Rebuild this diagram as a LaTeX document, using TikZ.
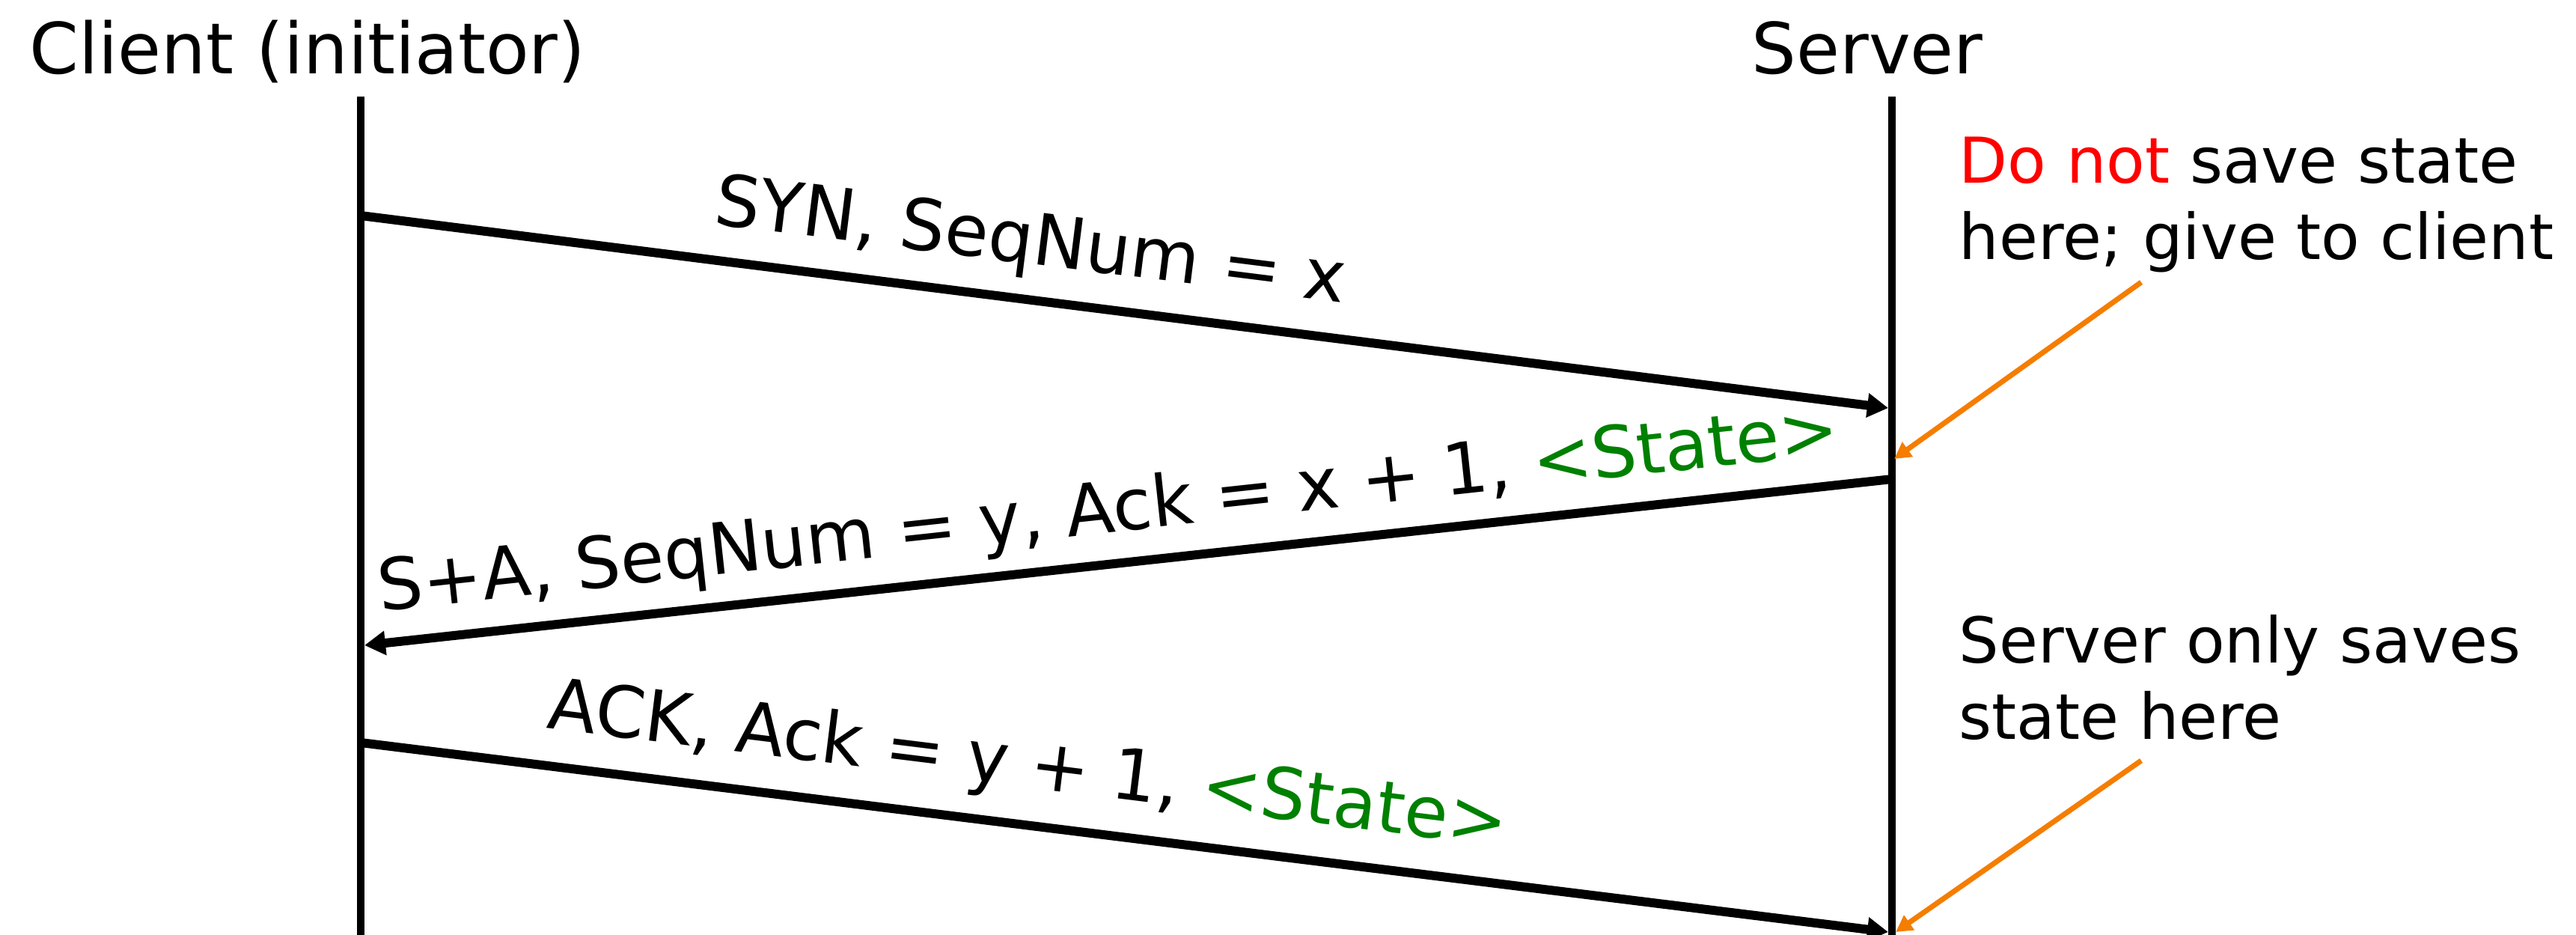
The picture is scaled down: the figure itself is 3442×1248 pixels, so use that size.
\documentclass[tikz,border=0pt]{standalone}
\usepackage{fontspec}
\setmainfont{DejaVu Sans}
\usetikzlibrary{arrows.meta}
\definecolor{annorange}{RGB}{245,125,0}
\definecolor{stategreen}{RGB}{0,128,0}
\definecolor{notred}{RGB}{255,0,0}
\begin{document}
\begin{tikzpicture}[x=0.01cm,y=0.01cm,
  title/.style={font=\fontsize{26.8}{32}\selectfont, inner sep=0pt, anchor=base},
  lbl/.style={font=\fontsize{27}{32}\selectfont, inner sep=0pt, anchor=base},
  note/.style={font=\fontsize{24}{29}\selectfont, inner sep=0pt, anchor=base west, align=left},
  life/.style={line width=0.1cm},
  msg/.style={line width=0.12cm, -{Triangle[length=0.28cm,width=0.31cm]}},
  pointer/.style={draw=annorange, line width=0.07cm, -{Triangle[length=0.22cm,width=0.23cm]}, annorange}]
\useasboundingbox (0,0) rectangle (3442,-1248);
% participants
\node[title] (client) at (411,-98) {Client (initiator)};
\node[title] (server) at (2495,-98) {Server};
\coordinate (ctop) at (482,-129);
\coordinate (cbot) at (482,-1252);
\coordinate (stop) at (2528,-129);
\coordinate (sbot) at (2528,-1252);
\draw[life] (ctop) -- (cbot);
\draw[life] (stop) -- (sbot);
% messages
\coordinate (m1a) at (482,-288);
\coordinate (m1b) at (2523,-545);
\coordinate (m2a) at (2528,-640);
\coordinate (m2b) at (487,-862);
\coordinate (m3a) at (482,-992);
\coordinate (m3b) at (2523,-1245);
\draw[msg] (m1a) -- (m1b);
\draw[msg] (m2a) -- (m2b);
\draw[msg] (m3a) -- (m3b);
\node[lbl, rotate=-7.16] (syn) at (1373,-352) {SYN, SeqNum = x};
\node[lbl, rotate=6.19] (synack) at (1484,-711) {S+A, SeqNum = y, Ack = x + 1, \textcolor{stategreen}{<State>}};
\node[lbl, rotate=-7.05] (ack) at (1370,-1052) {ACK, Ack = y + 1, \textcolor{stategreen}{<State>}};
% annotations (base anchor = baseline of the last line)
\node[note] (note1) at (2617,-346) {\textcolor{notred}{Do not} save state\\here; give to client};
\node[note] (note2) at (2617,-987) {Server only saves\\state here};
\coordinate (p1a) at (2861,-377);
\coordinate (p1b) at (2531,-613);
\coordinate (p2a) at (2861,-1016);
\coordinate (p2b) at (2533,-1245);
\draw[pointer] (p1a) -- (p1b);
\draw[pointer] (p2a) -- (p2b);
\end{tikzpicture}
\end{document}
